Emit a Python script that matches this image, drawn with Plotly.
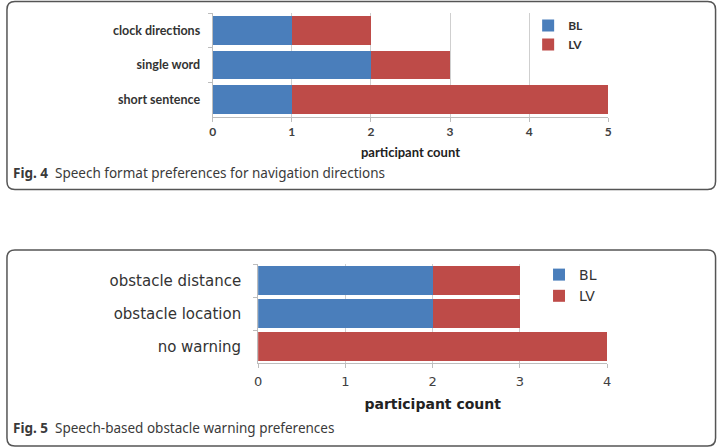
import plotly.graph_objects as go

W, H = 725, 448

# ---- data ----
cats4 = ["clock directions", "single word", "short sentence"]
bl4 = [1, 2, 1]
lv4 = [1, 1, 4]
xticks4 = [0, 1, 2, 3, 4, 5]

cats5 = ["obstacle distance", "obstacle location", "no warning"]
bl5 = [2, 2, 0]
lv5 = [1, 1, 4]
xticks5 = [0, 1, 2, 3, 4]

series_names = ["BL", "LV"]
caption4 = "<b>Fig. 4</b>  Speech format preferences for navigation directions"
caption5 = "<b>Fig. 5</b>  Speech-based obstacle warning preferences"
axis_title = "participant count"

BLUE = "#4a7ebb"
RED = "#be4b48"
GRID = "#cfcfcf"
AX = "#bdbdbd"
TXT = "#404040"

def px(x):
    return x / W

def py(y):
    return 1 - y / H

fig = go.Figure()

# Panel 1 (Fig. 4)
fig.add_trace(go.Bar(y=cats4, x=bl4, orientation="h", name=series_names[0],
                     marker=dict(color=BLUE, line=dict(width=0)), width=0.82,
                     xaxis="x", yaxis="y", legend="legend"))
fig.add_trace(go.Bar(y=cats4, x=lv4, orientation="h", name=series_names[1],
                     marker=dict(color=RED, line=dict(width=0)), width=0.82,
                     xaxis="x", yaxis="y", legend="legend"))
# Panel 2 (Fig. 5)
fig.add_trace(go.Bar(y=cats5, x=bl5, orientation="h", name=series_names[0],
                     marker=dict(color=BLUE, line=dict(width=0)), width=0.85,
                     xaxis="x2", yaxis="y2", legend="legend2"))
fig.add_trace(go.Bar(y=cats5, x=lv5, orientation="h", name=series_names[1],
                     marker=dict(color=RED, line=dict(width=0)), width=0.85,
                     xaxis="x2", yaxis="y2", legend="legend2"))

f1 = "Lato"
f2 = "DejaVu Sans"

fig.update_layout(
    width=W, height=H,
    margin=dict(l=0, r=0, t=0, b=0),
    paper_bgcolor="white", plot_bgcolor="white",
    barmode="stack",
    showlegend=True,
    xaxis=dict(domain=[px(211), px(611)], anchor="y", range=[0, 5],
               tickvals=xticks4, showgrid=True, gridcolor=GRID, gridwidth=1,
               showline=True, linecolor=AX, linewidth=1,
               ticks="outside", ticklen=4, tickcolor=AX,
               tickfont=dict(family=f1, size=12, color=TXT, weight="bold"),
               title=dict(text=axis_title, standoff=9,
                          font=dict(family=f1, size=13, color="#222", weight="bold")),
               zeroline=False, fixedrange=True),
    yaxis=dict(domain=[py(117), py(13)], anchor="x", type="category",
               categoryorder="array", categoryarray=cats4, autorange="reversed",
               showline=True, linecolor=AX, linewidth=1,
               ticks="outside", ticklen=4, tickcolor=AX, tickson="boundaries",
               ticklabelstandoff=9,
               tickfont=dict(family=f1, size=12.5, color="#333", weight="bold"),
               showgrid=False, fixedrange=True),
    xaxis2=dict(domain=[px(257), px(610)], anchor="y2", range=[0, 4],
                tickvals=xticks5, showgrid=True, gridcolor=GRID, gridwidth=1,
                showline=True, linecolor=AX, linewidth=1,
                ticks="outside", ticklen=4, tickcolor=AX,
                ticklabelstandoff=2,
                tickfont=dict(family=f2, size=13, color=TXT),
                title=dict(text=axis_title, standoff=11,
                           font=dict(family=f2, size=14, color="#222", weight="bold")),
                zeroline=False, fixedrange=True),
    yaxis2=dict(domain=[py(363), py(264)], anchor="x2", type="category",
                categoryorder="array", categoryarray=cats5, autorange="reversed",
                showline=True, linecolor=AX, linewidth=1,
                ticks="outside", ticklen=4, tickcolor=AX, tickson="boundaries",
                ticklabelstandoff=13,
                tickfont=dict(family=f2, size=15, color="#333"),
                showgrid=False, fixedrange=True),
    legend=dict(x=px(530), y=py(11), xanchor="left", yanchor="top",
                bgcolor="rgba(0,0,0,0)", borderwidth=0, itemwidth=30,
                traceorder="normal",
                font=dict(family=f1, size=12, color="#333", weight="bold"),
                tracegroupgap=0, itemclick=False, itemdoubleclick=False),
    legend2=dict(x=px(541), y=py(259), xanchor="left", yanchor="top",
                 bgcolor="rgba(0,0,0,0)", borderwidth=0, itemwidth=30,
                 traceorder="normal",
                 font=dict(family=f2, size=14, color="#333"),
                 tracegroupgap=0, itemclick=False, itemdoubleclick=False),
)

def rounded_box(x0, y0, x1, y1, r=8):
    rx, ry = r / W, r / H
    X0, X1 = px(x0), px(x1)
    Y0, Y1 = py(y0), py(y1)  # Y0 top, Y1 bottom
    path = (f"M {X0+rx},{Y0} L {X1-rx},{Y0} Q {X1},{Y0} {X1},{Y0-ry} "
            f"L {X1},{Y1+ry} Q {X1},{Y1} {X1-rx},{Y1} "
            f"L {X0+rx},{Y1} Q {X0},{Y1} {X0},{Y1+ry} "
            f"L {X0},{Y0-ry} Q {X0},{Y0} {X0+rx},{Y0} Z")
    return dict(type="path", path=path, xref="paper", yref="paper",
                line=dict(color="#555555", width=1.5), fillcolor="rgba(0,0,0,0)",
                layer="above")

fig.add_shape(rounded_box(3, 1.5, 719.5, 189.5))
fig.add_shape(rounded_box(3, 250, 719.5, 446))

capfont = dict(family="Noto Sans", size=13.5, color="#3a3a3a")
fig.add_annotation(text=caption4, x=px(7), y=py(173), xref="paper", yref="paper",
                   xanchor="left", yanchor="middle", showarrow=False, font=capfont)
fig.add_annotation(text=caption5, x=px(7), y=py(428), xref="paper", yref="paper",
                   xanchor="left", yanchor="middle", showarrow=False, font=capfont)

fig.write_html("out.html")
